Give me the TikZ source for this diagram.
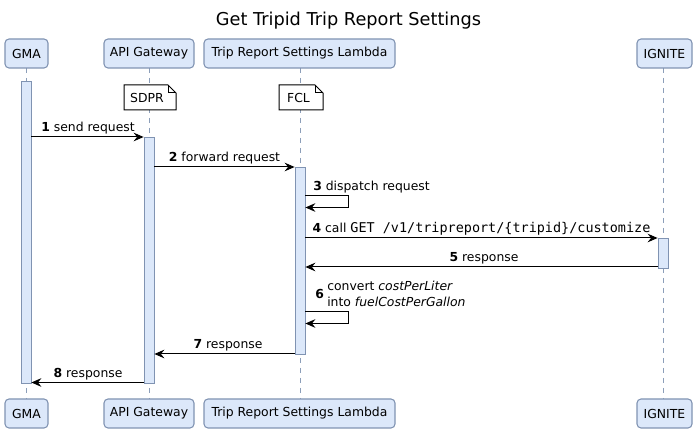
\documentclass[tikz,border=0pt]{standalone}
\usepackage{fontspec}
\setmainfont{DejaVu Sans}
\setmonofont{DejaVu Sans Mono}
\usetikzlibrary{arrows.meta}
\definecolor{pfill}{RGB}{220,232,250}
\definecolor{pline}{RGB}{128,147,178}
\definecolor{lline}{RGB}{140,158,185}
\tikzset{
  part/.style={draw=pline, fill=pfill, rounded corners=3pt, line width=0.8pt,
    minimum height=21.75pt, inner sep=0pt, font=\fontsize{9.3pt}{11pt}\selectfont},
  titletext/.style={font=\fontsize{13.3pt}{16pt}\selectfont, inner sep=0pt},
  lifeline/.style={draw=lline, line width=0.6pt, dash pattern=on 3.75pt off 3.75pt},
  actbar/.style={draw=pline, fill=pfill, line width=0.6pt, minimum width=7.5pt, inner sep=0pt},
  msg/.style={draw=black, line width=0.75pt, -{Stealth[length=7.5pt,width=6.5pt,inset=2.6pt]}},
  lbl/.style={font=\fontsize{9.3pt}{12pt}\selectfont, inner sep=0pt, anchor=base},
  notebox/.style={draw=black, fill=white, line width=0.75pt},
  notetext/.style={font=\fontsize{9.3pt}{12pt}\selectfont, inner sep=0pt},
}
\newcommand{\mono}[1]{{\fontsize{10.1pt}{12pt}\selectfont\ttfamily #1}}
\begin{document}
\begin{tikzpicture}[x=0.75pt,y=-0.75pt]
\useasboundingbox (0,0) rectangle (697,434);
\node[titletext] (title) at (348.5,21) {Get Tripid Trip Report Settings};

% lifelines
\coordinate (gmaT) at (26,68);   \coordinate (gmaB) at (26,399);
\coordinate (apiT) at (149,68);  \coordinate (apiB) at (149,399);
\coordinate (trsT) at (300,68);  \coordinate (trsB) at (300,399);
\coordinate (ignT) at (663,68);  \coordinate (ignB) at (663,399);
\draw[lifeline] (gmaT) -- (gmaB);
\draw[lifeline] (apiT) -- (apiB);
\draw[lifeline] (trsT) -- (trsB);
\draw[lifeline] (ignT) -- (ignB);

% participants top
\node[part, minimum width=32.25pt] (gma) at (26.5,53.5) {GMA};
\node[part, minimum width=67.5pt] (api) at (149,53.5) {API Gateway};
\node[part, minimum width=143.25pt] (trs) at (299.5,53.5) {Trip Report Settings Lambda};
\node[part, minimum width=41.25pt] (ign) at (664.5,53.5) {IGNITE};
% participants bottom
\node[part, minimum width=32.25pt] (gma2) at (26.5,413.5) {GMA};
\node[part, minimum width=67.5pt] (api2) at (149,413.5) {API Gateway};
\node[part, minimum width=143.25pt] (trs2) at (299.5,413.5) {Trip Report Settings Lambda};
\node[part, minimum width=41.25pt] (ign2) at (664.5,413.5) {IGNITE};

% activation bars
\node[actbar, minimum height=226.5pt] (gmaA) at (26,232) {};
\node[actbar, minimum height=184.5pt] (apiA) at (149,260) {};
\node[actbar, minimum height=140.25pt] (trsA) at (300,260.5) {};
\node[actbar, minimum height=22.5pt] (ignA) at (663,253) {};

% notes
\draw[notebox] (124,85) -- (168,85) -- (176,93) -- (176,110) -- (124,110) -- cycle;
\draw[line width=0.75pt] (168,85) -- (168,93) -- (176,93);
\node[notetext] (sdpr) at (147,98) {SDPR};
\draw[notebox] (279,85) -- (315,85) -- (323,93) -- (323,110) -- (279,110) -- cycle;
\draw[line width=0.75pt] (315,85) -- (315,93) -- (323,93);
\node[notetext] (fcl) at (298.5,98) {FCL};

% messages
\coordinate (m1a) at (gmaA.east |- 0,137); \coordinate (m1b) at (apiA.west |- 0,137);
\draw[msg] (m1a) -- (m1b);
\node[lbl] at (88,132) {\textbf{1} send request};

\coordinate (m2a) at (apiA.east |- 0,167); \coordinate (m2b) at (trsA.west |- 0,167);
\draw[msg] (m2a) -- (m2b);
\node[lbl] at (224.5,162) {\textbf{2} forward request};

\coordinate (m3a) at (trsA.east |- 0,195.5); \coordinate (m3b) at (trsA.east |- 0,207.5);
\draw[msg] (m3a) -- (348,195.5) -- (348,207.5) -- (m3b);
\node[lbl, anchor=base west] at (313,190.5) {\textbf{3} dispatch request};

\coordinate (m4a) at (trsA.east |- 0,238); \coordinate (m4b) at (ignA.west |- 0,238);
\draw[msg] (m4a) -- (m4b);
\node[lbl] at (481.5,233) {\textbf{4} call \mono{GET /v1/tripreport/\{tripid\}/customize}};

\coordinate (m5a) at (ignA.west |- 0,267); \coordinate (m5b) at (trsA.east |- 0,267);
\draw[msg] (m5a) -- (m5b);
\node[lbl] at (484,262) {\textbf{5} response};

\coordinate (m6a) at (trsA.east |- 0,311.5); \coordinate (m6b) at (trsA.east |- 0,323.5);
\draw[msg] (m6a) -- (348,311.5) -- (348,323.5) -- (m6b);
\node[lbl, anchor=base west] (n6) at (315,298.5) {\textbf{6}};
\node[lbl, anchor=base west] at (327,290.5) {convert \textit{costPerLiter}};
\node[lbl, anchor=base west] at (327,306.5) {into \textit{fuelCostPerGallon}};

\coordinate (m7a) at (trsA.west |- 0,354); \coordinate (m7b) at (apiA.east |- 0,354);
\draw[msg] (m7a) -- (m7b);
\node[lbl] at (228,349) {\textbf{7} response};

\coordinate (m8a) at (apiA.west |- 0,382.5); \coordinate (m8b) at (gmaA.east |- 0,382.5);
\draw[msg] (m8a) -- (m8b);
\node[lbl] at (88,377.5) {\textbf{8} response};
\end{tikzpicture}
\end{document}
